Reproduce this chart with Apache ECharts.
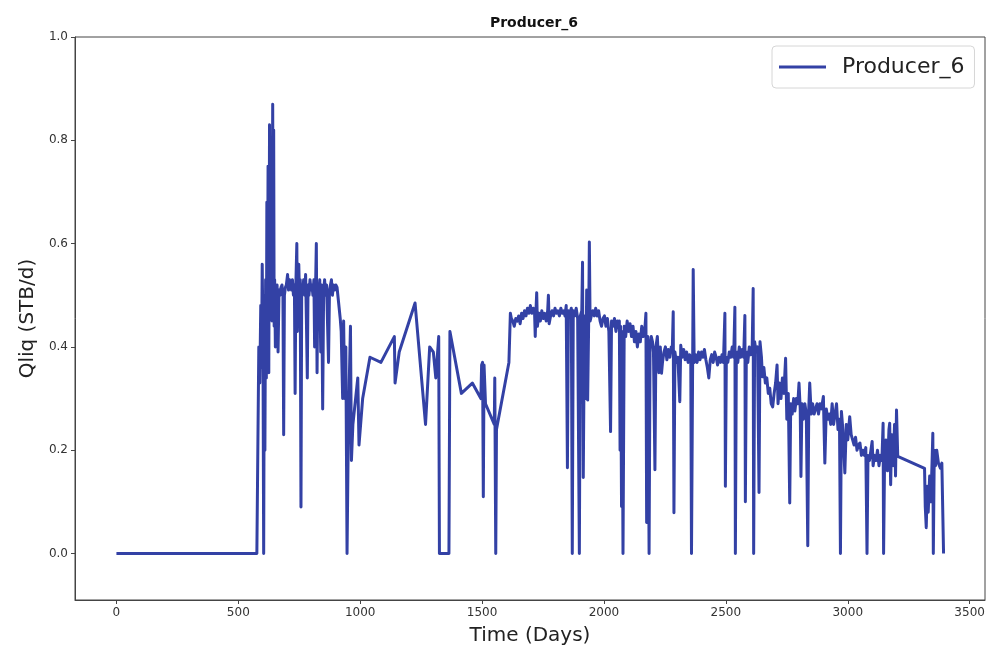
<!DOCTYPE html>
<html>
<head>
<meta charset="utf-8">
<script src="https://cdn.jsdelivr.net/npm/echarts@6/dist/echarts.min.js"></script>
<style>
  html, body { margin: 0; padding: 0; background: #fff; }
  #chart { width: 993px; height: 651px; }
</style>
</head>
<body>
<div id="chart"></div>
<script>
// Liquid rate history of well Producer_6
const seriesName = 'Producer_6';

const days = [
  0, 576, 584, 588, 592, 595, 598, 601, 604, 607, 609, 612, 615, 617, 619, 622, 625, 628, 630, 633,
  636, 638, 641, 643, 645, 647, 649, 652, 655, 659, 663, 667, 671, 675, 679, 683, 686, 689, 693, 697,
  702, 706, 710, 714, 718, 722, 726, 730, 733, 736, 740, 742, 745, 748, 751, 754, 757, 760, 764, 768,
  772, 776, 780, 783, 786, 790, 794, 798, 802, 806, 810, 813, 817, 820, 823, 826, 830, 834, 838, 842,
  846, 850, 854, 858, 862, 866, 870, 874, 878, 882, 886, 890, 895, 900, 905, 918, 922, 928, 932, 936,
  941, 946, 950, 955, 960, 964, 970, 990, 995, 1010, 1040, 1085, 1140, 1143, 1160, 1225, 1268, 1285, 1300, 1310,
  1322, 1325, 1364, 1368, 1415, 1460, 1495, 1498, 1502, 1505, 1508, 1514, 1550, 1552, 1556, 1559, 1610, 1616, 1620, 1626,
  1632, 1638, 1644, 1650, 1656, 1662, 1668, 1674, 1680, 1686, 1692, 1698, 1704, 1710, 1715, 1718, 1721, 1724, 1727, 1733,
  1739, 1745, 1751, 1757, 1763, 1769, 1772, 1775, 1781, 1787, 1793, 1799, 1805, 1811, 1817, 1823, 1829, 1835, 1840, 1845,
  1850, 1854, 1860, 1866, 1870, 1874, 1880, 1886, 1892, 1899, 1903, 1909, 1912, 1915, 1920, 1925, 1929, 1933, 1937, 1940,
  1943, 1948, 1954, 1960, 1966, 1972, 1978, 1984, 1990, 1996, 2002, 2008, 2014, 2020, 2027, 2031, 2037, 2043, 2049, 2055,
  2060, 2063, 2066, 2068, 2072, 2074, 2078, 2083, 2089, 2095, 2101, 2107, 2113, 2119, 2125, 2131, 2137, 2143, 2149, 2155, 2161, 2167,
  2172, 2175, 2180, 2185, 2189, 2194, 2199, 2203, 2209, 2213, 2219, 2225, 2231, 2236, 2240, 2246, 2252, 2258, 2264, 2270,
  2276, 2280, 2284, 2287, 2291, 2297, 2303, 2311, 2315, 2321, 2327, 2333, 2339, 2345, 2351, 2356, 2359, 2366, 2370, 2376,
  2382, 2388, 2394, 2400, 2406, 2412, 2418, 2424, 2430, 2436, 2442, 2448, 2454, 2460, 2466, 2472, 2478, 2484, 2490, 2496,
  2498, 2502, 2508, 2514, 2520, 2526, 2532, 2537, 2539, 2543, 2549, 2555, 2561, 2567, 2573, 2578, 2580, 2584, 2590, 2596,
  2602, 2608, 2612, 2614, 2618, 2624, 2630, 2636, 2640, 2646, 2650, 2656, 2662, 2668, 2674, 2680, 2686, 2692, 2698, 2704,
  2710, 2714, 2720, 2726, 2732, 2738, 2745, 2750, 2756, 2762, 2766, 2772, 2778, 2783, 2789, 2795, 2800, 2805, 2808, 2812,
  2818, 2824, 2830, 2836, 2840, 2844, 2850, 2856, 2862, 2868, 2874, 2880, 2886, 2892, 2900, 2906, 2912, 2918, 2924, 2930,
  2936, 2942, 2948, 2954, 2960, 2966, 2970, 2974, 2980, 2988, 2994, 3000, 3008, 3014, 3020, 3026, 3032, 3038, 3044, 3050,
  3056, 3062, 3068, 3074, 3079, 3083, 3089, 3095, 3100, 3104, 3110, 3116, 3122, 3128, 3134, 3140, 3145, 3147, 3151, 3157,
  3163, 3169, 3172, 3176, 3180, 3186, 3192, 3196, 3200, 3205, 3315, 3318, 3322, 3326, 3330, 3336, 3341, 3346, 3349, 3351,
  3355, 3360, 3365, 3372, 3380, 3386, 3393
];

const qliq = [
  0, 0, 0.40, 0.33, 0.48, 0.36, 0.56, 0.42, 0, 0.50, 0.20, 0.53, 0.34, 0.68, 0.40, 0.75, 0.35, 0.83, 0.55, 0.60,
  0.76, 0.45, 0.87, 0.53, 0.82, 0.44, 0.53, 0.40, 0.51, 0.52, 0.39, 0.51, 0.50, 0.515, 0.52, 0.50, 0.23, 0.50, 0.515, 0.52,
  0.54, 0.51, 0.53, 0.52, 0.51, 0.53, 0.50, 0.52, 0.31, 0.52, 0.60, 0.43, 0.52, 0.56, 0.50, 0.53, 0.09, 0.52, 0.51, 0.53,
  0.50, 0.54, 0.43, 0.34, 0.52, 0.50, 0.53, 0.51, 0.52, 0.50, 0.53, 0.40, 0.52, 0.60, 0.35, 0.52, 0.50, 0.53, 0.39, 0.52,
  0.28, 0.51, 0.53, 0.50, 0.52, 0.52, 0.37, 0.51, 0.52, 0.53, 0.50, 0.52, 0.51, 0.52, 0.515, 0.455, 0.43, 0.30, 0.45, 0.30,
  0.40, 0, 0.18, 0.33, 0.44, 0.18, 0.25, 0.34, 0.21, 0.30, 0.38, 0.37, 0.42, 0.33, 0.39, 0.485, 0.25, 0.40, 0.39, 0.34,
  0.42, 0, 0, 0.43, 0.31, 0.33, 0.30, 0.365, 0.37, 0.11, 0.365, 0.29, 0.25, 0.34, 0, 0.24, 0.37, 0.465, 0.455, 0.45,
  0.44, 0.455, 0.45, 0.46, 0.445, 0.465, 0.455, 0.47, 0.46, 0.475, 0.465, 0.48, 0.465, 0.475, 0.47, 0.42, 0.47, 0.505, 0.44, 0.465,
  0.45, 0.47, 0.455, 0.465, 0.45, 0.47, 0.50, 0.445, 0.46, 0.47, 0.46, 0.475, 0.465, 0.47, 0.46, 0.475, 0.465, 0.47, 0.46, 0.48,
  0.166, 0.47, 0.465, 0.475, 0, 0.47, 0.46, 0.475, 0.455, 0, 0.46, 0.47, 0.564, 0.147, 0.46, 0.30, 0.51, 0.297, 0.44, 0.603,
  0.45, 0.46, 0.47, 0.46, 0.475, 0.46, 0.47, 0.45, 0.44, 0.455, 0.46, 0.44, 0.455, 0.43, 0.236, 0.45, 0.44, 0.455, 0.43, 0.45,
  0.44, 0.45, 0.20, 0.44, 0.091, 0.43, 0, 0.44, 0.42, 0.45, 0.43, 0.445, 0.42, 0.44, 0.41, 0.43, 0.40, 0.425, 0.41, 0.44, 0.42, 0.43,
  0.465, 0.06, 0.42, 0, 0.40, 0.42, 0.41, 0.39, 0.162, 0.40, 0.42, 0.35, 0.40, 0.349, 0.37, 0.39, 0.40, 0.375, 0.395, 0.38,
  0.40, 0.39, 0.468, 0.079, 0.39, 0.37, 0.38, 0.294, 0.403, 0.38, 0.395, 0.375, 0.39, 0.37, 0.385, 0.381, 0, 0.55, 0.37, 0.385,
  0.37, 0.39, 0.375, 0.39, 0.38, 0.395, 0.375, 0.36, 0.34, 0.375, 0.385, 0.37, 0.39, 0.38, 0.365, 0.38, 0.37, 0.385, 0.37, 0.465,
  0.13, 0.38, 0.37, 0.39, 0.38, 0.40, 0.38, 0.477, 0, 0.39, 0.37, 0.40, 0.38, 0.395, 0.38, 0.461, 0.10, 0.39, 0.37, 0.40,
  0.385, 0.40, 0.513, 0, 0.41, 0.39, 0.40, 0.118, 0.41, 0.38, 0.342, 0.36, 0.33, 0.34, 0.31, 0.32, 0.29, 0.284, 0.31, 0.33,
  0.365, 0.29, 0.33, 0.30, 0.34, 0.31, 0.378, 0.26, 0.31, 0.098, 0.29, 0.27, 0.30, 0.276, 0.30, 0.29, 0.33, 0.28, 0.149, 0.29,
  0.26, 0.29, 0.27, 0.015, 0.28, 0.33, 0.27, 0.29, 0.27, 0.28, 0.29, 0.27, 0.29, 0.28, 0.304, 0.175, 0.28, 0.26, 0.27, 0.25,
  0.29, 0.25, 0.27, 0.29, 0.24, 0.26, 0, 0.275, 0.24, 0.156, 0.25, 0.22, 0.265, 0.23, 0.22, 0.21, 0.225, 0.20, 0.21, 0.214,
  0.19, 0.20, 0.19, 0.205, 0, 0.19, 0.18, 0.20, 0.217, 0.17, 0.19, 0.18, 0.20, 0.17, 0.19, 0.18, 0.252, 0, 0.18, 0.22,
  0.16, 0.24, 0.252, 0.133, 0.23, 0.17, 0.25, 0.15, 0.278, 0.188, 0.165, 0.09, 0.05, 0.13, 0.08, 0.15, 0.10, 0.18, 0.233, 0,
  0.20, 0.17, 0.20, 0.175, 0.165, 0.175, 0
];

const xTicks = [0, 500, 1000, 1500, 2000, 2500, 3000, 3500];
const yTicks = [0.0, 0.2, 0.4, 0.6, 0.8, 1.0];

const points = days.map((d, i) => [d, qliq[i]]);

const font = 'DejaVu Sans';
const lineColor = '#3341a5';
const frameColor = '#444';

const chart = echarts.init(document.getElementById('chart'), null, { renderer: 'canvas' });
chart.setOption({
  animation: false,
  backgroundColor: '#ffffff',
  title: {
    text: seriesName,
    left: 529,
    textAlign: 'center',
    top: 11,
    textStyle: { fontFamily: font, fontSize: 14, fontWeight: 'bold', color: '#111' }
  },
  legend: {
    data: [seriesName],
    left: 772,
    top: 46,
    orient: 'horizontal',
    icon: 'rect',
    padding: [10, 10, 10, 7],
    itemWidth: 47,
    itemHeight: 3,
    borderColor: '#d6d6d6',
    borderWidth: 1,
    borderRadius: 4,
    backgroundColor: '#fff',
    itemStyle: { color: lineColor },
    textStyle: { fontFamily: font, fontSize: 22, color: '#222', padding: [0, 0, 0, 11] }
  },
  grid: { left: 75, right: 8, top: 37, bottom: 49, show: true, borderColor: frameColor, borderWidth: 1, containLabel: false },
  xAxis: {
    type: 'value',
    min: -170,
    max: 3563,
    name: 'Time (Days)',
    nameLocation: 'middle',
    nameGap: 26,
    nameTextStyle: { fontFamily: font, fontSize: 20, color: '#222' },
    axisLine: { show: true, onZero: false, lineStyle: { color: frameColor, width: 1 } },
    axisTick: { show: true, length: 4, customValues: xTicks, lineStyle: { color: frameColor } },
    axisLabel: { customValues: xTicks, fontFamily: font, fontSize: 12, color: '#333', margin: 7,
      formatter: v => String(v) },
    splitLine: { show: false }
  },
  yAxis: {
    type: 'value',
    min: -0.09,
    max: 1.0,
    name: 'Qliq (STB/d)',
    nameLocation: 'middle',
    nameGap: 36,
    nameTextStyle: { fontFamily: font, fontSize: 20, color: '#222' },
    axisLine: { show: true, onZero: false, lineStyle: { color: frameColor, width: 1 } },
    axisTick: { show: true, length: 4, customValues: yTicks, lineStyle: { color: frameColor } },
    axisLabel: { customValues: yTicks, fontFamily: font, fontSize: 12, color: '#333', margin: 7,
      formatter: v => v.toFixed(1) },
    splitLine: { show: false }
  },
  series: [{
    name: seriesName,
    type: 'line',
    data: points,
    symbol: 'none',
    showSymbol: false,
    sampling: null,
    lineStyle: { color: lineColor, width: 3, join: 'round' },
    itemStyle: { color: lineColor }
  }]
});
</script>
</body>
</html>
